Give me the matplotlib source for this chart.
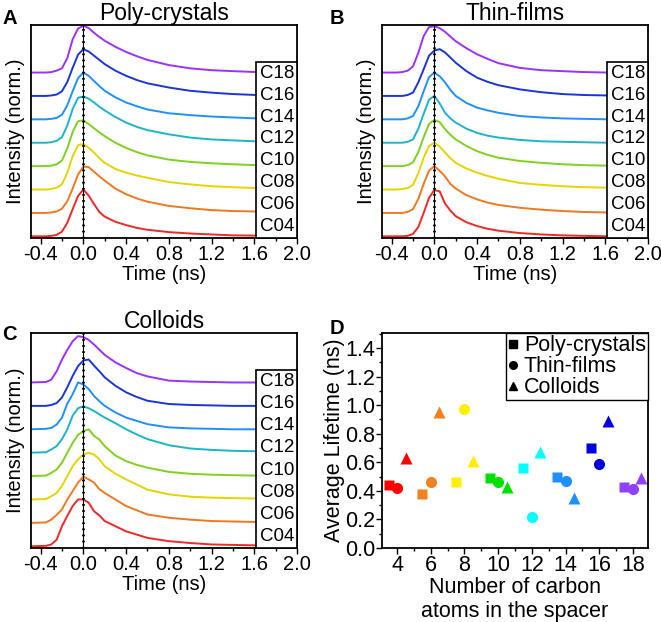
import numpy as np
import matplotlib
matplotlib.use('Agg')
import matplotlib.pyplot as plt
from matplotlib.patches import Rectangle
from matplotlib.ticker import MultipleLocator
from matplotlib.lines import Line2D

plt.rcParams['font.family'] = ['Liberation Sans', 'DejaVu Sans']

# time grid (ns) of the sampled decay traces
t = [-0.5, -0.35, -0.3, -0.25, -0.2, -0.15, -0.1, -0.05, 0.0, 0.05, 0.1, 0.15,
     0.2, 0.3, 0.4, 0.5, 0.6, 0.8, 1.0, 1.2, 1.4, 1.62]

labels = ['C04', 'C06', 'C08', 'C10', 'C12', 'C14', 'C16', 'C18']
line_colors = ['#f02828', '#f07820', '#e6d400', '#80d020',
               '#1cb4c8', '#1e90ff', '#1a35d8', '#9b30ff']

# normalized traces, panel A (poly-crystals)
poly = {
    'C04': [0, 0, 0.01, 0.03, 0.10, 0.29, 0.58, 0.86, 1.0, 0.87, 0.69, 0.52, 0.42, 0.31, 0.24, 0.18, 0.14, 0.09, 0.06, 0.04, 0.02, 0.015],
    'C06': [0, 0, 0.01, 0.03, 0.09, 0.25, 0.52, 0.82, 0.99, 0.98, 0.88, 0.78, 0.69, 0.52, 0.40, 0.31, 0.24, 0.15, 0.10, 0.06, 0.04, 0.03],
    'C08': [0, 0, 0.01, 0.04, 0.11, 0.36, 0.71, 0.95, 0.97, 0.89, 0.79, 0.67, 0.57, 0.44, 0.36, 0.30, 0.25, 0.16, 0.11, 0.07, 0.05, 0.03],
    'C10': [0, 0, 0.01, 0.04, 0.12, 0.38, 0.73, 0.96, 0.98, 0.90, 0.81, 0.72, 0.64, 0.50, 0.39, 0.30, 0.23, 0.14, 0.09, 0.06, 0.04, 0.02],
    'C12': [0, 0, 0.01, 0.04, 0.12, 0.37, 0.72, 0.96, 0.99, 0.94, 0.86, 0.77, 0.69, 0.55, 0.43, 0.34, 0.27, 0.18, 0.11, 0.07, 0.05, 0.03],
    'C14': [0, 0, 0.01, 0.03, 0.10, 0.30, 0.60, 0.88, 1.0, 0.93, 0.82, 0.71, 0.61, 0.47, 0.36, 0.28, 0.21, 0.13, 0.09, 0.06, 0.04, 0.02],
    'C16': [0, 0, 0.01, 0.03, 0.10, 0.30, 0.60, 0.88, 1.0, 0.95, 0.86, 0.77, 0.68, 0.54, 0.43, 0.34, 0.27, 0.18, 0.11, 0.07, 0.04, 0.02],
    'C18': [0, 0, 0.01, 0.04, 0.09, 0.31, 0.71, 0.94, 1.0, 0.95, 0.85, 0.76, 0.68, 0.55, 0.44, 0.35, 0.27, 0.16, 0.09, 0.05, 0.03, 0.01],
}

# panel B (thin-films)
films = {
    'C04': [0, 0, 0, 0.01, 0.05, 0.20, 0.50, 0.82, 0.99, 0.96, 0.70, 0.55, 0.43, 0.30, 0.22, 0.16, 0.12, 0.07, 0.04, 0.02, 0.01, 0.0],
    'C06': [0, 0, 0, 0.02, 0.08, 0.30, 0.62, 0.90, 1.0, 0.90, 0.78, 0.62, 0.52, 0.38, 0.29, 0.22, 0.17, 0.11, 0.07, 0.04, 0.02, 0.01],
    'C08': [0, 0, 0.01, 0.03, 0.10, 0.35, 0.68, 0.93, 1.0, 0.92, 0.79, 0.67, 0.57, 0.45, 0.36, 0.29, 0.23, 0.14, 0.10, 0.07, 0.05, 0.04],
    'C10': [0, 0, 0, 0.02, 0.08, 0.30, 0.62, 0.90, 0.99, 0.94, 0.79, 0.67, 0.57, 0.43, 0.32, 0.24, 0.18, 0.11, 0.07, 0.04, 0.02, 0.01],
    'C12': [0, 0, 0, 0.02, 0.07, 0.30, 0.62, 0.92, 1.0, 0.84, 0.64, 0.52, 0.43, 0.30, 0.21, 0.15, 0.11, 0.06, 0.03, 0.02, 0.01, 0.0],
    'C14': [0, 0, 0, 0.02, 0.07, 0.28, 0.60, 0.90, 1.0, 0.92, 0.79, 0.63, 0.50, 0.35, 0.25, 0.19, 0.14, 0.07, 0.04, 0.02, 0.01, 0.0],
    'C16': [0, 0, 0, 0.02, 0.07, 0.29, 0.57, 0.86, 0.97, 1.0, 0.93, 0.82, 0.71, 0.53, 0.39, 0.30, 0.23, 0.14, 0.08, 0.04, 0.02, 0.01],
    'C18': [0, 0, 0.01, 0.04, 0.13, 0.42, 0.78, 0.97, 0.99, 0.95, 0.87, 0.77, 0.67, 0.52, 0.39, 0.29, 0.20, 0.10, 0.05, 0.03, 0.01, 0.0],
}

# panel C (colloids)
colloids = {
    'C04': [0, 0.01, 0.04, 0.14, 0.43, 0.65, 0.86, 1.0, 1.0, 0.93, 0.75, 0.66, 0.54, 0.43, 0.32, 0.25, 0.18, 0.11, 0.07, 0.04, 0.03, 0.02],
    'C06': [0, 0.01, 0.07, 0.17, 0.29, 0.50, 0.68, 0.86, 0.99, 0.93, 0.86, 0.72, 0.64, 0.50, 0.36, 0.27, 0.18, 0.11, 0.07, 0.04, 0.03, 0.02],
    'C08': [0, 0.01, 0.07, 0.14, 0.29, 0.50, 0.71, 0.86, 0.96, 1.0, 0.96, 0.86, 0.71, 0.55, 0.43, 0.32, 0.21, 0.11, 0.06, 0.04, 0.03, 0.02],
    'C10': [0, 0.01, 0.07, 0.14, 0.29, 0.50, 0.71, 0.88, 0.96, 1.0, 0.86, 0.78, 0.64, 0.44, 0.32, 0.24, 0.18, 0.09, 0.05, 0.03, 0.02, 0.01],
    'C12': [0, 0.01, 0.07, 0.14, 0.29, 0.50, 0.79, 0.95, 0.99, 0.95, 0.89, 0.82, 0.75, 0.63, 0.50, 0.39, 0.29, 0.16, 0.09, 0.06, 0.04, 0.03],
    'C14': [0, 0.01, 0.03, 0.10, 0.25, 0.55, 0.75, 1.0, 0.96, 0.86, 0.71, 0.60, 0.50, 0.36, 0.25, 0.18, 0.11, 0.04, 0.02, 0.01, 0, 0],
    'C16': [0, 0, 0.02, 0.06, 0.18, 0.40, 0.64, 0.85, 0.97, 0.99, 0.86, 0.74, 0.61, 0.43, 0.29, 0.19, 0.11, 0.04, 0.02, 0.01, 0, 0],
    'C18': [0, 0.01, 0.06, 0.24, 0.49, 0.70, 0.88, 0.99, 0.97, 0.91, 0.81, 0.70, 0.59, 0.43, 0.31, 0.20, 0.13, 0.04, 0.02, 0.01, 0, 0],
}

# panel D: average lifetimes (ns)
carbons = [4, 6, 8, 10, 12, 14, 16, 18]
x_poly = [3.5, 5.5, 7.5, 9.5, 11.5, 13.5, 15.5, 17.5]
x_films = [4, 6, 8, 10, 12, 14, 16, 18]
x_coll = [4.5, 6.5, 8.5, 10.5, 12.5, 14.5, 16.5, 18.5]
tau_poly = [0.44, 0.38, 0.46, 0.49, 0.56, 0.50, 0.70, 0.43]
tau_films = [0.42, 0.46, 0.97, 0.46, 0.22, 0.47, 0.59, 0.41]
tau_coll = [0.63, 0.95, 0.61, 0.43, 0.67, 0.35, 0.89, 0.49]
dot_colors = ['#ff0000', '#f08020', '#fff000', '#00e000',
              '#00ffff', '#1e90ff', '#0000e0', '#9040ff']

fig = plt.figure(figsize=(6.61, 6.22), dpi=100)
W, H = 661, 622


def px_axes(l, top, r, b):
    return fig.add_axes([l / W, 1 - b / H, (r - l) / W, (b - top) / H])


def decay_panel(ax, data, title, ylim, box_top):
    for i, lab in enumerate(labels):
        ax.plot(t, np.array(data[lab]) + 0.5 * i, color=line_colors[i], lw=1.4)
    ax.axvline(0, color='black', lw=0.8)
    ax.axvline(0, color='black', lw=2.0, ls=(0, (0.6, 1.6)))
    ax.set_xlim(-0.49, 2.0)
    ax.set_ylim(*ylim)
    ax.set_yticks([])
    ax.xaxis.set_minor_locator(MultipleLocator(0.2))
    ax.set_xticks([-0.4, 0.0, 0.4, 0.8, 1.2, 1.6, 2.0])
    ax.set_xticklabels(['-0.4', '0.0', '0.4', '0.8', '1.2', '1.6', '2.0'])
    ax.tick_params(axis='x', which='major', direction='out', length=4, width=1, labelsize=14.5, pad=1)
    ax.tick_params(axis='x', which='minor', direction='out', length=2.5, width=1)
    for s in ax.spines.values():
        s.set_linewidth(1.3)
    ax.set_xlabel('Time (ns)', fontsize=14.5, labelpad=1)
    ax.set_ylabel('Intensity (norm.)', fontsize=14.5, labelpad=4)
    ax.set_title(title, fontsize=16.5, pad=3)
    # label box on the right
    bx = 0.846
    ax.add_patch(Rectangle((bx, 0), 1 - bx, box_top, transform=ax.transAxes,
                           facecolor='white', edgecolor='black', lw=1.2, zorder=5, clip_on=False))
    step = box_top / 8
    for i, lab in enumerate(labels):
        ax.text((bx + 1) / 2 + 0.003, step * (i + 0.5), lab, transform=ax.transAxes,
                ha='center', va='center', fontsize=13.5, zorder=6)


axA = px_axes(31, 25, 297, 238)
decay_panel(axA, poly, 'Poly-crystals', (-0.036, 4.516), (238 - 62) / 213)
axB = px_axes(382, 25, 648, 238)
decay_panel(axB, films, 'Thin-films', (-0.036, 4.516), (238 - 62) / 213)
axC = px_axes(31, 333, 297, 548)
decay_panel(axC, colloids, 'Colloids', (-0.036, 4.557), (548 - 370) / 215)

axD = px_axes(382, 333, 648, 548)
for i in range(len(carbons)):
    c = dot_colors[i]
    axD.plot(x_poly[i], tau_poly[i], 's', color=c, ms=7.5, mec='none')
    axD.plot(x_films[i], tau_films[i], 'o', color=c, ms=8, mec='none')
    axD.plot(x_coll[i], tau_coll[i], '^', color=c, ms=8.5, mec='none')
axD.set_xlim(3.1, 18.9)
axD.set_ylim(0, 1.505)
axD.set_xticks(carbons)
axD.xaxis.set_minor_locator(MultipleLocator(1))
axD.yaxis.set_major_locator(MultipleLocator(0.2))
axD.yaxis.set_minor_locator(MultipleLocator(0.1))
axD.tick_params(which='major', direction='out', length=4, width=1, labelsize=15.5, pad=1)
axD.tick_params(which='minor', direction='out', length=2.5, width=1)
for s in axD.spines.values():
    s.set_linewidth(1.3)
axD.set_xlabel('Number of carbon\natoms in the spacer', fontsize=15.5, labelpad=1, linespacing=1.15)
axD.set_ylabel('Average Lifetime (ns)', fontsize=15.5, labelpad=0)
handles = [Line2D([], [], ls='none', marker=m, color='black', ms=5.5)
           for m in ['s', 'o', '^']]
leg = axD.legend(handles, ['Poly-crystals', 'Thin-films', 'Colloids'], loc='upper right',
                 bbox_to_anchor=(1, 1), borderaxespad=0, fontsize=15.5, fancybox=False,
                 framealpha=1, edgecolor='black', handlelength=0.5, handletextpad=0.25,
                 labelspacing=0.0, borderpad=0.1)
leg.get_frame().set_linewidth(1.0)

for lab, x, y in [('A', 10, 18), ('B', 337, 18), ('C', 9, 334), ('D', 337, 329)]:
    fig.text(x / W, 1 - y / H, lab, fontsize=14.5, fontweight='bold', ha='center', va='center')

fig.savefig('out.png', dpi=100)
